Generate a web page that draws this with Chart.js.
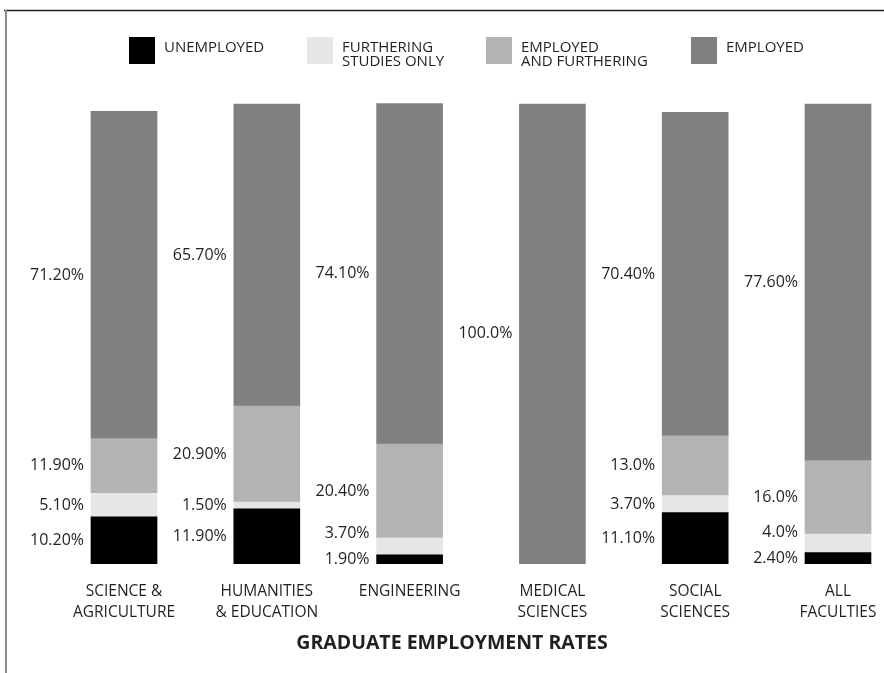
<!DOCTYPE html>
<html>
<head>
<meta charset="utf-8">
<script src="https://cdn.jsdelivr.net/npm/chart.js@4.4.1/dist/chart.umd.min.js"></script>
<style>
  html, body { margin: 0; padding: 0; background: #ffffff; }
  #wrap { position: relative; width: 884px; height: 673px; }
  canvas { display: block; }
</style>
</head>
<body>
<div id="wrap"><canvas id="chart" width="884" height="673"></canvas></div>
<script>
// Faculties (two-line labels as arrays)
const faculties = [
  ['SCIENCE &', 'AGRICULTURE'],
  ['HUMANITIES', '& EDUCATION'],
  ['ENGINEERING'],
  ['MEDICAL', 'SCIENCES'],
  ['SOCIAL', 'SCIENCES'],
  ['ALL', 'FACULTIES']
];

// Percentages per outcome, written as printed on the bars (null = no segment)
const unemployed         = ['10.20', '11.90', '1.90', null, '11.10', '2.40'];
const furtheringOnly     = ['5.10',  '1.50',  '3.70', null, '3.70',  '4.0'];
const employedFurthering = ['11.90', '20.90', '20.40', null, '13.0', '16.0'];
const employed           = ['71.20', '65.70', '74.10', '100.0', '70.40', '77.60'];

const seriesNames = [
  ['UNEMPLOYED'],
  ['FURTHERING', 'STUDIES ONLY'],
  ['EMPLOYED', 'AND FURTHERING'],
  ['EMPLOYED']
];

const INK = '#231f20';
const FONT = '"Open Sans", "Noto Sans", sans-serif';

const toNum = arr => arr.map(v => (v === null ? null : Number(v)));

function makeSet(name, raw, color) {
  return {
    label: name.join(' '),
    legendLines: name,
    rawText: raw,
    data: toNum(raw),
    backgroundColor: color,
    borderWidth: 0,
    barThickness: 66,
    clip: false
  };
}

// Percent labels to the left of each segment, nudged apart when segments are thin
const segmentLabels = {
  id: 'segmentLabels',
  afterDatasetsDraw(chart) {
    const ctx = chart.ctx;
    const nSets = chart.data.datasets.length;
    const nBars = chart.data.labels.length;
    ctx.save();
    ctx.font = '16px ' + FONT;
    ctx.fillStyle = INK;
    ctx.textAlign = 'right';
    ctx.textBaseline = 'middle';
    const minGap = 26;
    for (let i = 0; i < nBars; i++) {
      let prevY = Infinity;
      for (let d = 0; d < nSets; d++) {
        const ds = chart.data.datasets[d];
        const txt = ds.rawText[i];
        if (txt === null) continue;
        const el = chart.getDatasetMeta(d).data[i];
        const center = (el.y + el.base) / 2;
        const y = Math.min(center, prevY - minGap);
        prevY = y;
        ctx.fillText(txt + '%', el.x - el.width / 2 - 7, y);
      }
    }
    ctx.restore();
  }
};

// Legend row across the top plus the frame lines
const topLegend = {
  id: 'topLegend',
  beforeDraw(chart) {
    const ctx = chart.ctx;
    ctx.save();
    ctx.fillStyle = '#ffffff';
    ctx.fillRect(0, 0, chart.width, chart.height);
    ctx.strokeStyle = INK;
    ctx.lineWidth = 1.5;
    ctx.beginPath();
    ctx.moveTo(4, 10.5);
    ctx.lineTo(chart.width, 10.5);
    ctx.stroke();
    ctx.strokeStyle = '#8c8c8c';
    ctx.lineWidth = 2;
    ctx.beginPath();
    ctx.moveTo(6, 10);
    ctx.lineTo(6, chart.height);
    ctx.stroke();
    ctx.restore();
  },
  afterDraw(chart, args, opts) {
    const ctx = chart.ctx;
    ctx.save();
    ctx.font = '15px ' + FONT;
    ctx.textAlign = 'left';
    ctx.textBaseline = 'alphabetic';
    chart.data.datasets.forEach((ds, k) => {
      const x = opts.x[k];
      ctx.fillStyle = ds.backgroundColor;
      ctx.fillRect(x, opts.top, 26, 27);
      ctx.fillStyle = INK;
      ds.legendLines.forEach((line, j) => {
        ctx.fillText(line, x + 35, opts.top + 15 + j * 14);
      });
    });
    ctx.restore();
  }
};

const hiddenAxis = (width, position) => ({
  display: true,
  position,
  stacked: true,
  min: 0,
  max: 100,
  grid: { display: false, drawTicks: false },
  border: { display: false },
  ticks: { display: false },
  afterFit: s => { s.width = width; }
});

const chart = new Chart(document.getElementById('chart'), {
  type: 'bar',
  data: {
    labels: faculties,
    datasets: [
      makeSet(seriesNames[0], unemployed, '#000000'),
      makeSet(seriesNames[1], furtheringOnly, '#e6e6e6'),
      makeSet(seriesNames[2], employedFurthering, '#b3b3b3'),
      makeSet(seriesNames[3], employed, '#808080')
    ]
  },
  options: {
    responsive: false,
    animation: false,
    layout: { padding: { left: 20, right: 0, top: 104, bottom: 10 } },
    scales: {
      x: {
        stacked: true,
        offset: false,
        grid: { display: false, drawTicks: false },
        border: { display: false },
        ticks: {
          autoSkip: false,
          maxRotation: 0,
          padding: 18,
          color: INK,
          font: { family: FONT, size: 15.5, lineHeight: 1.35 }
        },
        afterFit: s => {
          s.height = 58;
          // end labels sit inside the side margins already
          s.paddingLeft = 0;
          s.paddingRight = 0;
        }
      },
      y: hiddenAxis(104, 'left'),
      yRight: hiddenAxis(46, 'right')
    },
    plugins: {
      legend: { display: false },
      tooltip: { enabled: false },
      title: {
        display: true,
        position: 'bottom',
        text: 'GRADUATE EMPLOYMENT RATES',
        color: INK,
        font: { family: FONT, size: 19.5, weight: 'bold', lineHeight: 1.2 },
        padding: { top: 10, bottom: 8 }
      },
      topLegend: { x: [129, 307, 486, 691], top: 37 }
    }
  },
  plugins: [segmentLabels, topLegend]
});
</script>
</body>
</html>
